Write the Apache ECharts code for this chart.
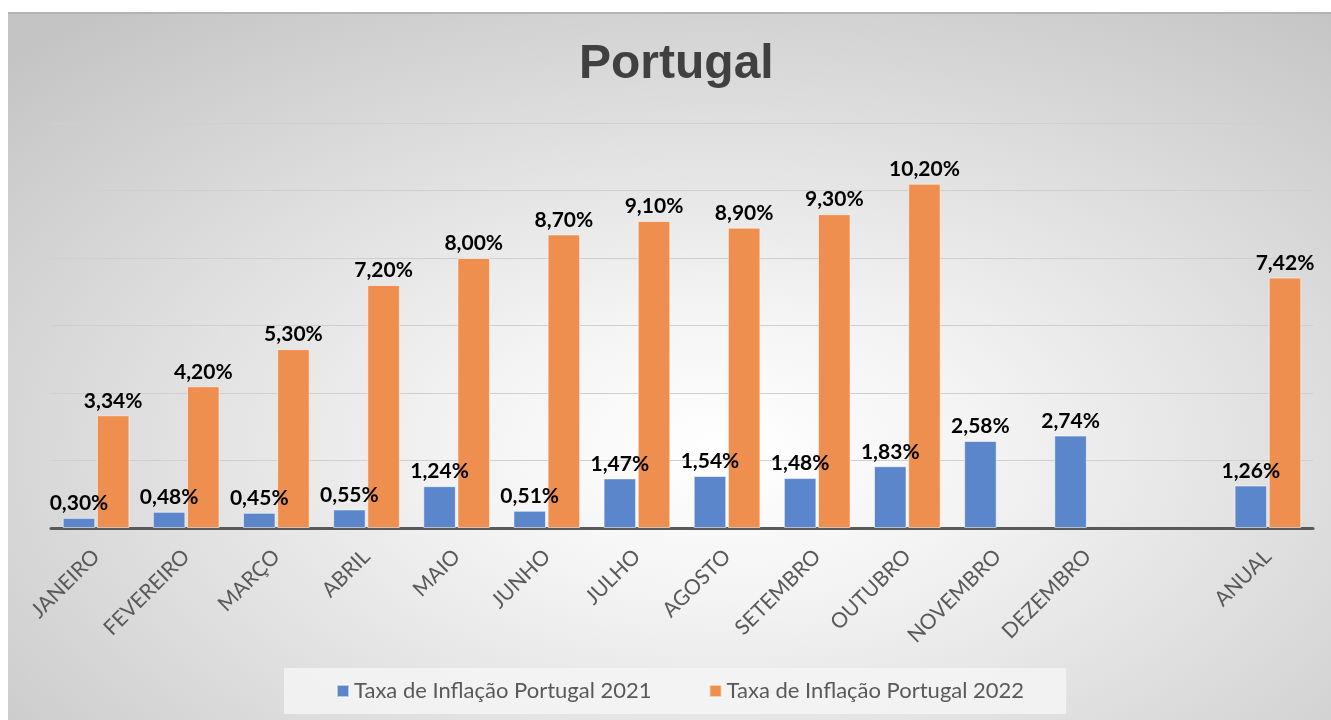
<!DOCTYPE html>
<html>
<head>
<meta charset="utf-8">
<script src="https://cdn.jsdelivr.net/npm/echarts@6/dist/echarts.min.js"></script>
<style>
  html, body { margin: 0; padding: 0; background: #ffffff; width: 1331px; height: 720px; overflow: hidden; }
  #frame {
    position: absolute; left: 8px; top: 12px; width: 1323px; height: 708px;
    background: radial-gradient(ellipse 75% 80% at 54% 62%, #ffffff 0%, #f4f4f4 25%, #dedede 60%, #c4c4c4 100%);
    border-top: 2px solid #b4b4b4;
    box-sizing: border-box;
  }
  #chart { position: absolute; left: 0; top: 0; width: 1323px; height: 706px; }
</style>
</head>
<body>
<div id="frame"><div id="chart"></div></div>
<script>
const categories = ['JANEIRO','FEVEREIRO','MARÇO','ABRIL','MAIO','JUNHO','JULHO','AGOSTO','SETEMBRO','OUTUBRO','NOVEMBRO','DEZEMBRO','','ANUAL'];
const rate2021 = [0.30, 0.48, 0.45, 0.55, 1.24, 0.51, 1.47, 1.54, 1.48, 1.83, 2.58, 2.74, null, 1.26];
const rate2022 = [3.34, 4.20, 5.30, 7.20, 8.00, 8.70, 9.10, 8.90, 9.30, 10.20, null, null, null, 7.42];
const seriesNames = ['Taxa de Inflação Portugal 2021', 'Taxa de Inflação Portugal 2022'];
const yTicks = [0, 2, 4, 6, 8, 10, 12];

const chart = echarts.init(document.getElementById('chart'));
const fmt = p => p.value == null ? '' : p.value.toFixed(2).replace('.', ',') + '%';
const labelStyle = {
  show: true, position: 'top', distance: 4, formatter: fmt,
  fontFamily: 'Lato', fontWeight: 'bold', fontSize: 21, color: '#000000'
};
chart.setOption({
  backgroundColor: 'transparent',
  animation: false,
  title: {
    text: 'Portugal', left: 566, top: 22,
    textStyle: { fontFamily: 'Liberation Sans', fontWeight: 'bold', fontSize: 48, color: '#404040' }
  },
  legend: {
    data: seriesNames,
    left: 276, top: 654,
    backgroundColor: 'rgba(245,245,245,0.85)',
    padding: [12, 42, 12, 52],
    itemWidth: 12, itemHeight: 12, itemGap: 57,
    icon: 'rect',
    textStyle: { fontFamily: 'Lato', fontSize: 22, color: '#595959' }
  },
  grid: { left: 43, right: 18, top: 109, bottom: 192, containLabel: false },
  xAxis: {
    type: 'category', data: categories,
    axisLine: { lineStyle: { color: '#595959', width: 3 } },
    axisTick: { show: false },
    axisLabel: { rotate: 45, margin: 25, fontFamily: 'Lato', fontSize: 21, color: '#595959', interval: 0 }
  },
  yAxis: {
    type: 'value', min: yTicks[0], max: yTicks[yTicks.length - 1], interval: 2,
    axisLabel: { show: false }, axisLine: { show: false }, axisTick: { show: false },
    splitLine: { lineStyle: { color: '#cfcfcf', width: 1 } }
  },
  series: [
    {
      name: seriesNames[0], type: 'bar', data: rate2021,
      barGap: '5%', barCategoryGap: '26%',
      itemStyle: { color: '#5c86cb', borderColor: 'rgba(255,255,255,0.55)', borderWidth: 1 },
      label: labelStyle
    },
    {
      name: seriesNames[1], type: 'bar', data: rate2022,
      itemStyle: { color: '#ef8f4f', borderColor: 'rgba(255,255,255,0.55)', borderWidth: 1 },
      label: labelStyle
    }
  ]
});
</script>
</body>
</html>
